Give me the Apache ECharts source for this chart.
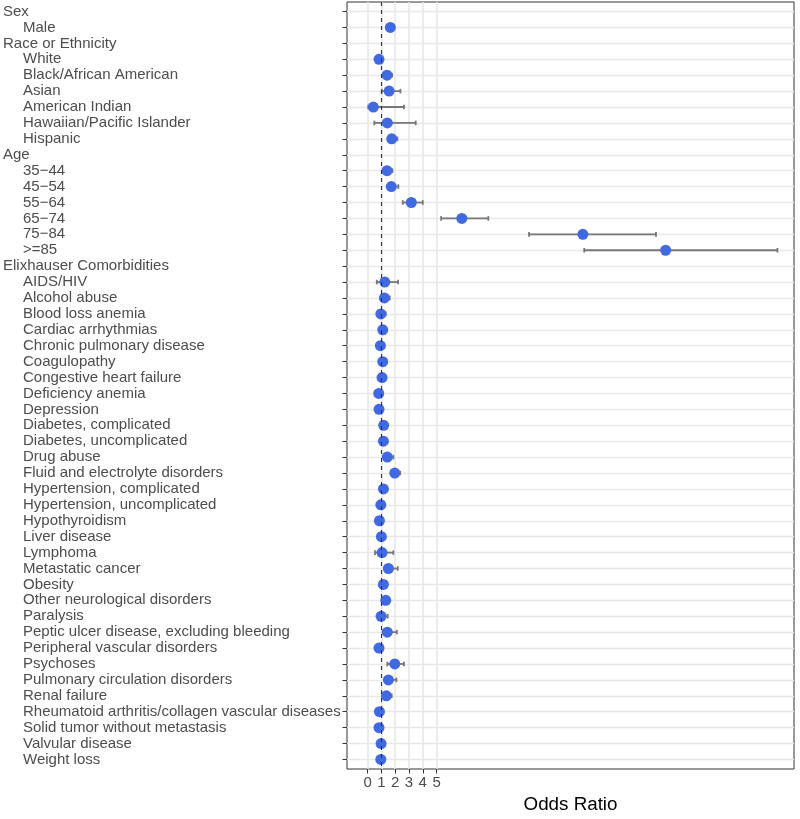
<!DOCTYPE html>
<html>
<head>
<meta charset="utf-8">
<script src="https://cdn.jsdelivr.net/npm/echarts@6/dist/echarts.min.js"></script>
<style>
  html, body { margin: 0; padding: 0; background: #fff; }
  #chart { width: 800px; height: 819px; }
</style>
</head>
<body>
<div id="chart"></div>
<script>
// rows top to bottom; headers carry no estimate
const rowLabels = [
  'Sex', 'Male',
  'Race or Ethnicity', 'White', 'Black/African American', 'Asian', 'American Indian',
  'Hawaiian/Pacific Islander', 'Hispanic',
  'Age', '35\u221244', '45\u221254', '55\u221264', '65\u221274', '75\u221284', '>=85',
  'Elixhauser Comorbidities', 'AIDS/HIV', 'Alcohol abuse', 'Blood loss anemia',
  'Cardiac arrhythmias', 'Chronic pulmonary disease', 'Coagulopathy',
  'Congestive heart failure', 'Deficiency anemia', 'Depression',
  'Diabetes, complicated', 'Diabetes, uncomplicated', 'Drug abuse',
  'Fluid and electrolyte disorders', 'Hypertension, complicated',
  'Hypertension, uncomplicated', 'Hypothyroidism', 'Liver disease', 'Lymphoma',
  'Metastatic cancer', 'Obesity', 'Other neurological disorders', 'Paralysis',
  'Peptic ulcer disease, excluding bleeding', 'Peripheral vascular disorders',
  'Psychoses', 'Pulmonary circulation disorders', 'Renal failure',
  'Rheumatoid arthritis/collagen vascular diseases', 'Solid tumor without metastasis',
  'Valvular disease', 'Weight loss'
];
const headerRows = ['Sex', 'Race or Ethnicity', 'Age', 'Elixhauser Comorbidities'];

const oddsRatio = [
  null, 1.65,
  null, 0.83, 1.41, 1.56, 0.42, 1.43, 1.75,
  null, 1.41, 1.72, 3.17, 6.83, 15.6, 21.6,
  null, 1.25, 1.22, 0.96, 1.10, 0.93, 1.10, 1.05, 0.81, 0.83, 1.17, 1.15, 1.43,
  1.97, 1.15, 0.96, 0.86, 1.00, 1.05, 1.51, 1.15, 1.32, 0.98, 1.43, 0.83, 1.97,
  1.51, 1.36, 0.86, 0.83, 0.98, 0.96
];
const lowerCI = [
  null, 1.58,
  null, 0.79, 1.25, 1.03, 0.05, 0.49, 1.55,
  null, 1.20, 1.45, 2.55, 5.33, 11.7, 15.7,
  null, 0.67, 1.00, 0.75, 1.04, 0.90, 1.02, 0.98, 0.76, 0.78, 1.10, 1.10, 1.22,
  1.78, 1.08, 0.92, 0.80, 0.92, 0.54, 1.22, 1.05, 1.20, 0.72, 1.10, 0.78, 1.43,
  1.25, 1.20, 0.75, 0.76, 0.90, 0.90
];
const upperCI = [
  null, 1.73,
  null, 0.87, 1.78, 2.38, 2.64, 3.49, 2.16,
  null, 1.80, 2.23, 4.00, 8.75, 20.9, 29.7,
  null, 2.21, 1.61, 1.32, 1.17, 0.96, 1.19, 1.13, 0.87, 0.89, 1.25, 1.20, 1.87,
  2.36, 1.22, 1.00, 0.92, 1.09, 1.87, 2.19, 1.25, 1.45, 1.46, 2.12, 0.90, 2.64,
  2.09, 1.75, 0.98, 0.90, 1.06, 1.03
];
const xTicks = [0, 1, 2, 3, 4, 5];
const rowTicks = rowLabels.map((_, i) => i);

const points = [];
const bars = [];
rowLabels.forEach((_, i) => {
  if (oddsRatio[i] == null) return;
  points.push([oddsRatio[i], i]);
  bars.push([lowerCI[i], upperCI[i], i]);
});

const textGrey = '#4d4d4d';
const chart = echarts.init(document.getElementById('chart'));

chart.setOption({
  animation: false,
  backgroundColor: '#fff',
  textStyle: { fontFamily: 'Liberation Sans, Arial, sans-serif' },
  grid: {
    left: 347, right: 6, top: 2, bottom: 44,
    show: true, borderColor: '#333', borderWidth: 1, backgroundColor: 'transparent'
  },
  xAxis: {
    type: 'value',
    min: -1.49,
    max: 30.9,
    name: 'Odds Ratio',
    nameLocation: 'middle',
    nameGap: 26,
    nameTextStyle: { color: '#000', fontSize: 18.8 },
    axisLine: { show: false, onZero: false },
    axisTick: { show: true, customValues: xTicks, length: 4.5, lineStyle: { color: '#333' } },
    axisLabel: { customValues: xTicks, color: textGrey, fontSize: 15, margin: 6 },
    splitLine: { show: true, lineStyle: { color: '#e8e8e8', width: 1.6 } }
  },
  yAxis: {
    type: 'value',
    inverse: true,
    min: -0.6,
    max: 47.6,
    axisLine: { show: false, onZero: false },
    axisTick: { show: true, customValues: rowTicks, length: 4.5, lineStyle: { color: '#333' } },
    axisLabel: {
      customValues: rowTicks,
      align: 'left',
      margin: 344,
      formatter: v => {
        const name = rowLabels[Math.round(v)];
        return headerRows.includes(name) ? '{h|' + name + '}' : '{s|' + name + '}';
      },
      rich: {
        h: { color: textGrey, fontSize: 15 },
        s: { color: textGrey, fontSize: 15, padding: [0, 0, 0, 20] }
      }
    },
    splitLine: { show: true, lineStyle: { color: '#e8e8e8', width: 1.4 } }
  },
  series: [
    {
      type: 'custom',
      data: bars,
      encode: { x: [0, 1], y: 2 },
      z: 2,
      renderItem: (params, api) => {
        const row = api.value(2);
        const a = api.coord([api.value(0), row]);
        const b = api.coord([api.value(1), row]);
        const style = { stroke: '#777', lineWidth: 1.8 };
        const cap = 2.3;
        return {
          type: 'group',
          children: [
            { type: 'line', shape: { x1: a[0], y1: a[1], x2: b[0], y2: b[1] }, style },
            { type: 'line', shape: { x1: a[0], y1: a[1] - cap, x2: a[0], y2: a[1] + cap }, style },
            { type: 'line', shape: { x1: b[0], y1: b[1] - cap, x2: b[0], y2: b[1] + cap }, style }
          ]
        };
      },
      markLine: {
        silent: true,
        symbol: 'none',
        label: { show: false },
        lineStyle: { type: [4, 4], color: '#333', width: 1.1 },
        data: [{ xAxis: 1 }]
      }
    },
    {
      type: 'scatter',
      data: points,
      symbol: 'circle',
      symbolSize: 11,
      z: 3,
      itemStyle: { color: '#4169e1', opacity: 1 }
    }
  ]
});
</script>
</body>
</html>
